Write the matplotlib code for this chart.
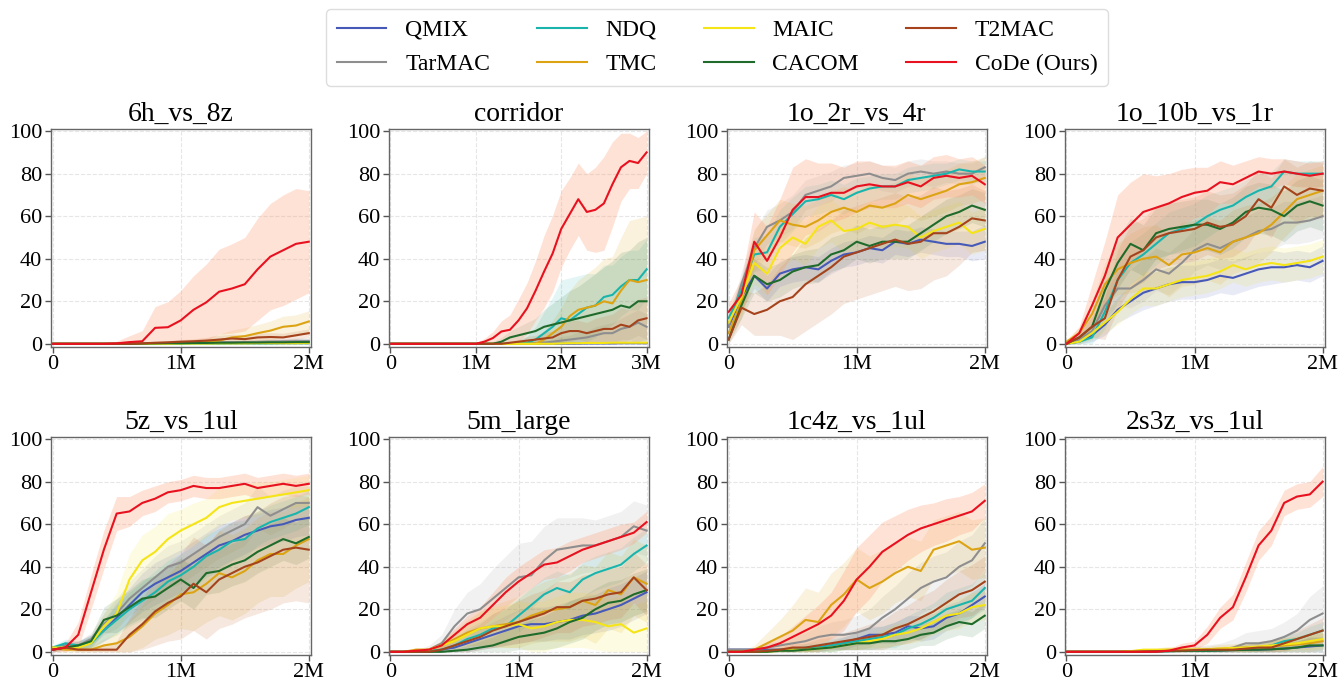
import numpy as np
import matplotlib.pyplot as plt

plt.rcParams['font.family'] = ['Liberation Serif', 'DejaVu Serif']

## Methods and colours

methods = ['QMIX', 'TarMAC', 'NDQ', 'TMC', 'MAIC', 'CACOM', 'T2MAC', 'CoDe (Ours)']
colors = ['#4659b8', '#8e8e8e', '#19b5ad', '#dca313', '#f5e416', '#1f6b2b', '#a4431c', '#e8111f']
band_colors = ['#4659b8', '#8e8e8e', '#19b5ad', '#dca313', '#f5e416', '#1f6b2b', '#c8703c', '#ff9f78']
band_alpha = [0.12, 0.12, 0.12, 0.14, 0.12, 0.12, 0.16, 0.30]

## Training steps (in millions)

steps_2m = np.arange(0, 2.01, 0.1)
steps_3m = np.arange(0, 3.01, 0.1)

## Win rates (%) - 6h_vs_8z

h6_qmix = [0, 0, 0, 0, 0, 0, 0, 0, 0.2, 0.3, 0.3, 0.4, 0.4, 0.5, 0.5, 0.5, 0.6, 0.6, 0.7, 0.8, 0.8]
h6_tarmac = [0, 0, 0, 0, 0, 0, 0, 0.2, 0.3, 0.4, 0.5, 0.5, 0.6, 0.7, 0.8, 0.8, 0.9, 1.0, 1.1, 1.2, 1.3]
h6_ndq = [0, 0, 0, 0, 0, 0, 0, 0, 0, 0, 0, 0.1, 0.1, 0.1, 0.2, 0.2, 0.2, 0.2, 0.3, 0.3, 0.3]
h6_tmc = [0, 0, 0, 0, 0, 0, 0, 0, 0.2, 0.3, 0.4, 0.6, 0.8, 1.5, 3.0, 3.6, 5.0, 6.2, 8.0, 8.6, 10.5]
h6_maic = [0, 0, 0, 0, 0, 0, 0, 0, 0, 0, 0.1, 0.1, 0.1, 0.2, 0.2, 0.2, 0.3, 0.3, 0.3, 0.3, 0.4]
h6_cacom = [0, 0, 0, 0, 0, 0, 0, 0.1, 0.2, 0.3, 0.3, 0.4, 0.4, 0.5, 0.5, 0.6, 0.6, 0.7, 0.7, 0.8, 0.8]
h6_t2mac = [0, 0, 0, 0, 0, 0, 0, 0.2, 0.5, 0.7, 1.0, 1.2, 1.5, 2.0, 2.5, 2.2, 3.0, 3.2, 3.0, 4.0, 5.0]
h6_code = [0, 0, 0, 0, 0, 0.2, 0.8, 1.2, 7.5, 7.8, 11, 16, 19.5, 24.5, 26, 28, 35, 41, 44, 47, 48]

h6_std_small = [0, 0, 0, 0, 0, 0, 0, 0.2, 0.3, 0.4, 0.5, 0.6, 0.7, 0.8, 0.9, 1.0, 1.0, 1.2, 1.3, 1.5, 1.5]
h6_std_tmc = [0, 0, 0, 0, 0, 0, 0, 0.3, 0.5, 0.8, 1, 1.5, 2, 3, 3.5, 4, 4, 4.5, 5, 5, 5]
h6_std_t2mac = [0, 0, 0, 0, 0, 0, 0, 0.3, 0.5, 0.8, 1, 1.2, 1.5, 2, 2, 2, 2, 2, 2, 2, 2]
h6_std_code = [0, 0, 0, 0, 0.5, 1, 3, 5, 10, 12, 14, 16, 18, 20, 21, 22, 24, 25, 26, 26, 24]

## corridor

co_qmix = [0] * 20 + [0.1, 0.1, 0.1, 0.2, 0.2, 0.2, 0.2, 0.3, 0.3, 0.3, 0.3]
co_tarmac = [0] * 16 + [0.2, 0.4, 0.6, 1.0, 1.5, 2, 2.5, 3, 4, 5, 5, 7, 8, 10, 8]
co_ndq = [0] * 16 + [0.5, 2, 5, 8, 12, 11, 14, 17, 18, 22, 23, 27, 30, 30, 35]
co_tmc = [0] * 18 + [2, 5, 8, 13, 16, 17, 18, 20, 19, 25, 30, 29, 30]
co_maic = [0] * 20 + [0.2, 0.3, 0.3, 0.4, 0.4, 0.4, 0.5, 0.5, 0.5, 0.5, 0.5]
co_cacom = [0] * 13 + [1, 3, 4, 5, 6, 8, 9, 10, 11, 12, 13, 14, 15, 16, 18, 17, 20, 20]
co_t2mac = [0] * 14 + [0.5, 1, 1.5, 2, 2.5, 3, 5, 6, 6, 5, 6, 7, 7, 9, 8, 11, 12]
co_code = [0] * 11 + [1, 2.7, 5.8, 6.6, 11, 16.7, 25, 34, 42.5, 54, 61, 68, 62, 63, 66, 75, 83, 86, 85, 90]

co_std_small = [0] * 20 + [0.2, 0.2, 0.2, 0.2, 0.3, 0.3, 0.3, 0.3, 0.3, 0.3, 0.3]
co_std_tarmac = [0] * 16 + [0.3, 0.5, 1, 1, 2, 2, 3, 3, 4, 4, 5, 5, 6, 6, 6]
co_std_ndq = [0] * 14 + [0.5, 1, 3, 6, 10, 14, 18, 20, 18, 16, 15, 15, 14, 14, 14, 14, 14]
co_std_tmc = [0] * 16 + [1, 2, 4, 6, 9, 12, 14, 16, 18, 20, 22, 25, 28, 30, 30]
co_std_cacom = [0] * 12 + [1, 2, 3, 4, 5, 6, 8, 10, 12, 14, 15, 17, 19, 21, 23, 25, 27, 28, 30]
co_std_t2mac = [0] * 14 + [0.5, 1, 2, 2, 3, 3, 4, 5, 5, 5, 6, 6, 7, 8, 8, 10, 10]
co_std_code = [0] * 10 + [0.5, 1.5, 3, 5, 7, 10, 12, 14, 17, 18, 18, 17, 17, 18, 20, 22, 20, 16, 13, 12, 10]

## 1o_2r_vs_4r

o2_qmix = [8, 22, 32, 26, 33, 35, 36, 35, 39, 42, 43, 45, 44, 48, 47, 49, 48, 47, 47, 46, 48]
o2_tarmac = [8, 28, 45, 55, 58, 62, 70, 72, 74, 78, 79, 80, 78, 77, 80, 81, 80, 81, 80, 80, 83]
o2_ndq = [12, 25, 42, 43, 55, 61, 67, 68, 70, 68, 71, 73, 74, 74, 77, 78, 79, 80, 82, 81, 81]
o2_tmc = [5, 20, 44, 51, 58, 56, 55, 58, 62, 64, 62, 65, 64, 66, 70, 68, 70, 72, 75, 76, 78]
o2_maic = [10, 22, 38, 33, 45, 50, 47, 55, 58, 53, 54, 57, 55, 56, 55, 50, 53, 55, 57, 52, 54]
o2_cacom = [2, 18, 32, 28, 30, 34, 36, 37, 42, 44, 48, 46, 48, 48, 48, 52, 56, 60, 62, 65, 63]
o2_t2mac = [2, 17, 14, 16, 20, 22, 28, 32, 36, 41, 43, 45, 47, 49, 47, 48, 52, 52, 55, 59, 58]
o2_code = [15, 23, 48, 39, 50, 63, 69, 69, 71, 71, 74, 75, 74, 74, 76, 74, 78, 79, 78, 79, 75]

o2_std_qmix = [3, 6, 6, 6, 6, 6, 6, 6, 6, 6, 6, 6, 6, 6, 6, 6, 6, 6, 6, 7, 8]
o2_std_tarmac = [3, 6, 8, 8, 8, 8, 7, 7, 7, 6, 6, 6, 6, 6, 6, 6, 6, 5, 5, 5, 5]
o2_std_ndq = [3, 6, 8, 8, 8, 8, 7, 7, 7, 7, 7, 6, 6, 6, 6, 6, 6, 5, 5, 5, 5]
o2_std_tmc = [3, 8, 10, 10, 10, 10, 10, 10, 10, 10, 10, 10, 10, 10, 10, 10, 10, 10, 10, 10, 10]
o2_std_maic = [3, 8, 10, 10, 10, 10, 10, 10, 10, 10, 10, 10, 10, 10, 10, 10, 10, 10, 10, 10, 10]
o2_std_cacom = [2, 6, 8, 8, 8, 8, 8, 8, 8, 8, 8, 8, 8, 8, 8, 8, 8, 8, 8, 8, 8]
o2_std_t2mac = [2, 8, 10, 12, 16, 20, 22, 22, 22, 22, 22, 22, 22, 22, 22, 22, 22, 20, 18, 16, 14]
o2_std_code = [4, 8, 14, 16, 18, 20, 18, 16, 14, 12, 12, 11, 10, 10, 10, 10, 10, 10, 9, 9, 9]

## 1o_10b_vs_1r

o10_qmix = [0, 1, 4, 9, 16, 20, 24, 26, 28, 29, 29, 30, 32, 31, 33, 35, 36, 36, 37, 36, 39]
o10_tarmac = [0, 2, 6, 18, 26, 26, 30, 35, 33, 38, 44, 47, 45, 48, 50, 53, 54, 57, 57, 58, 60]
o10_ndq = [0, 1, 3, 15, 30, 38, 42, 47, 52, 54, 56, 60, 63, 65, 69, 72, 74, 81, 80, 80, 80]
o10_tmc = [1, 5, 14, 28, 35, 38, 40, 41, 37, 42, 43, 45, 43, 48, 50, 52, 56, 62, 68, 70, 72]
o10_maic = [0, 1, 5, 10, 15, 21, 26, 26, 28, 30, 31, 32, 34, 37, 35, 37, 38, 37, 38, 39, 41]
o10_cacom = [0, 3, 8, 25, 38, 47, 44, 52, 54, 55, 56, 56, 54, 57, 62, 64, 63, 60, 65, 67, 65]
o10_t2mac = [0, 3, 8, 12, 30, 41, 44, 50, 52, 53, 54, 57, 55, 56, 60, 68, 64, 74, 70, 73, 72]
o10_code = [0, 5, 18, 32, 50, 56, 62, 64, 66, 69, 71, 72, 76, 75, 78, 81, 80, 81, 80, 79, 80]

o10_std_qmix = [0.5, 1, 3, 5, 6, 7, 8, 8, 8, 8, 8, 8, 8, 8, 8, 8, 8, 7, 7, 7, 7]
o10_std_tarmac = [0.5, 2, 4, 6, 8, 9, 10, 10, 10, 10, 10, 10, 10, 10, 10, 10, 10, 10, 10, 10, 10]
o10_std_ndq = [0.5, 1, 3, 8, 10, 10, 10, 10, 10, 10, 10, 10, 9, 9, 8, 8, 7, 6, 6, 6, 6]
o10_std_tmc = [1, 3, 6, 10, 12, 14, 15, 15, 15, 15, 15, 15, 15, 15, 15, 14, 13, 12, 12, 12, 12]
o10_std_maic = [0.5, 1, 3, 5, 6, 7, 8, 8, 8, 8, 8, 8, 8, 8, 8, 8, 8, 8, 8, 8, 8]
o10_std_cacom = [0.5, 2, 5, 10, 12, 12, 12, 12, 12, 12, 12, 12, 12, 12, 12, 12, 12, 12, 12, 12, 12]
o10_std_t2mac = [0.5, 2, 5, 10, 14, 15, 15, 15, 15, 15, 15, 15, 15, 15, 15, 14, 14, 13, 13, 13, 13]
o10_std_code = [1, 3, 10, 16, 20, 20, 18, 15, 14, 13, 12, 11, 10, 9, 8, 7, 7, 6, 6, 6, 6]

## 5z_vs_1ul

z5_qmix = [1, 3, 3, 5, 10, 16, 22, 28, 32, 35, 38, 42, 46, 50, 52, 55, 57, 59, 60, 62, 63]
z5_tarmac = [1, 3, 3, 6, 13, 18, 25, 30, 35, 40, 42, 46, 50, 54, 57, 60, 68, 64, 67, 70, 70]
z5_ndq = [2, 4, 3, 4, 10, 15, 20, 24, 28, 33, 36, 40, 45, 48, 52, 53, 58, 61, 63, 65, 68]
z5_tmc = [2, 1, 1, 1, 3, 4, 7, 12, 18, 22, 27, 28, 32, 37, 35, 38, 43, 46, 46, 50, 53]
z5_maic = [2, 2, 2, 4, 12, 18, 34, 43, 47, 53, 57, 60, 63, 68, 70, 71, 72, 73, 74, 75, 76]
z5_cacom = [1, 2, 3, 5, 15, 17, 21, 25, 26, 30, 34, 30, 37, 38, 41, 43, 47, 50, 53, 51, 54]
z5_t2mac = [1, 2, 1, 1, 1, 1, 8, 13, 19, 23, 26, 32, 28, 34, 37, 40, 42, 45, 48, 49, 48]
z5_code = [1, 2, 8, 28, 48, 65, 66, 70, 72, 75, 76, 78, 77, 77, 78, 79, 77, 78, 79, 78, 79]

z5_std_qmix = [1, 2, 2, 3, 5, 7, 8, 9, 10, 10, 10, 10, 10, 10, 9, 9, 8, 8, 8, 8, 8]
z5_std_tarmac = [1, 2, 2, 3, 5, 7, 8, 9, 10, 10, 10, 10, 10, 10, 10, 10, 10, 9, 9, 8, 8]
z5_std_ndq = [1, 2, 2, 3, 5, 7, 8, 9, 10, 10, 10, 10, 10, 10, 9, 9, 8, 8, 8, 8, 8]
z5_std_tmc = [1, 1, 1, 2, 3, 5, 8, 10, 12, 14, 16, 18, 18, 20, 20, 20, 20, 20, 20, 20, 20]
z5_std_maic = [1, 1, 1, 3, 6, 10, 12, 12, 12, 12, 10, 10, 9, 9, 8, 8, 8, 7, 7, 7, 7]
z5_std_cacom = [1, 1, 2, 3, 6, 8, 8, 9, 10, 10, 10, 10, 10, 10, 10, 10, 10, 10, 10, 10, 10]
z5_std_t2mac = [1, 1, 1, 1, 2, 4, 8, 12, 16, 18, 20, 22, 22, 23, 24, 24, 24, 25, 25, 25, 25]
z5_std_code = [1, 2, 6, 8, 9, 8, 7, 6, 6, 5, 5, 5, 5, 5, 5, 5, 5, 5, 5, 5, 5]

## 5m_large

m5_qmix = [0, 0, 0, 0, 1, 2, 4, 6, 8, 10, 12, 13, 13, 14, 15, 17, 18, 20, 22, 25, 28]
m5_tarmac = [0, 0, 0, 1, 4, 12, 18, 20, 25, 30, 35, 36, 43, 48, 49, 50, 50, 52, 54, 59, 57]
m5_ndq = [0, 0, 0, 0.5, 1, 3, 6, 8, 11, 12, 17, 22, 27, 30, 28, 34, 37, 39, 41, 46, 50]
m5_tmc = [0, 0, 1, 1, 3, 6, 9, 11, 12, 13, 14, 17, 19, 20, 21, 24, 22, 29, 27, 35, 32]
m5_maic = [0, 0, 0, 1, 3, 5, 8, 11, 12, 12, 13, 11, 12, 14, 15, 15, 14, 12, 13, 9, 11]
m5_cacom = [0, 0, 0, 0, 0, 0.5, 1, 2, 3, 5, 7, 8, 9, 11, 14, 16, 20, 23, 24, 27, 29]
m5_t2mac = [0, 0, 0, 0, 1, 3, 5, 7, 10, 12, 14, 16, 18, 21, 21, 24, 25, 27, 28, 35, 29]
m5_code = [0, 0, 0.5, 1, 3, 8, 13, 16, 22, 28, 33, 37, 41, 42, 45, 48, 50, 52, 54, 56, 61]

m5_std_qmix = [0, 0, 0.5, 1, 2, 3, 4, 5, 6, 7, 8, 8, 8, 8, 9, 9, 9, 10, 10, 10, 10]
m5_std_tarmac = [0, 0, 1, 2, 4, 8, 10, 12, 14, 15, 16, 16, 16, 15, 14, 13, 12, 12, 12, 12, 12]
m5_std_ndq = [0, 0, 0.5, 1, 2, 3, 5, 6, 7, 8, 8, 8, 8, 8, 8, 8, 8, 8, 8, 8, 8]
m5_std_tmc = [0, 0, 1, 1, 2, 4, 6, 8, 10, 11, 12, 13, 14, 15, 16, 17, 18, 18, 18, 18, 18]
m5_std_maic = [0, 0, 0.5, 1, 2, 4, 6, 8, 9, 10, 11, 12, 12, 12, 13, 13, 13, 13, 13, 13, 13]
m5_std_cacom = [0, 0, 0, 0, 0.5, 1, 2, 3, 4, 5, 6, 7, 8, 9, 10, 10, 10, 10, 10, 10, 10]
m5_std_t2mac = [0, 0, 0.5, 1, 2, 3, 5, 6, 8, 9, 10, 11, 11, 12, 12, 12, 12, 12, 12, 12, 12]
m5_std_code = [0, 0, 0.5, 1, 2, 3, 4, 5, 6, 7, 7, 7, 7, 7, 7, 6, 6, 6, 6, 5, 5]

## 1c4z_vs_1ul

c4_qmix = [1, 1, 1, 1, 1, 1, 1.5, 2, 3, 4, 6, 8, 8, 9, 12, 11, 12, 16, 18, 22, 26]
c4_tarmac = [1, 1, 1, 2, 3, 4, 5, 7, 8, 8, 9, 11, 16, 20, 25, 30, 33, 35, 40, 43, 51]
c4_ndq = [0, 0, 0, 0.5, 1, 1, 2, 2, 3, 4, 5, 6, 7, 8, 11, 13, 16, 20, 22, 24, 30]
c4_tmc = [0, 0, 1, 4, 7, 10, 15, 14, 22, 27, 34, 30, 33, 37, 40, 38, 48, 50, 52, 48, 49]
c4_maic = [0, 0, 0, 0, 0.5, 1, 1, 1.5, 2, 3, 4, 5, 6, 8, 9, 11, 14, 17, 18, 21, 22]
c4_cacom = [0, 0, 0, 0, 0.5, 0.5, 1, 1.5, 2, 3, 4, 4, 5, 5, 6, 8, 9, 12, 14, 13, 17]
c4_t2mac = [0, 0, 0, 0.5, 1, 2, 2, 3, 4, 5, 6, 7, 8, 11, 13, 16, 19, 23, 27, 29, 33]
c4_code = [0, 0, 1, 2, 4, 7, 10, 13, 17, 24, 34, 40, 47, 51, 55, 58, 60, 62, 64, 66, 71]

c4_std_qmix = [1, 1, 1, 1, 1, 1, 1, 2, 2, 3, 3, 4, 4, 5, 5, 6, 6, 6, 6, 6, 6]
c4_std_tarmac = [1, 1, 1, 2, 2, 3, 4, 5, 6, 7, 8, 9, 10, 11, 12, 12, 12, 12, 12, 12, 12]
c4_std_ndq = [0.5, 0.5, 0.5, 1, 1, 1, 2, 2, 3, 3, 4, 5, 5, 6, 6, 7, 7, 8, 8, 8, 8]
c4_std_tmc = [0.5, 0.5, 2, 5, 8, 12, 15, 14, 15, 15, 15, 15, 15, 14, 14, 14, 14, 14, 14, 14, 14]
c4_std_maic = [0.5, 0.5, 0.5, 0.5, 1, 1, 1, 2, 2, 2, 3, 3, 4, 5, 5, 6, 6, 7, 7, 7, 7]
c4_std_cacom = [0.5, 0.5, 0.5, 0.5, 1, 1, 1, 1, 2, 2, 3, 3, 4, 4, 5, 5, 6, 6, 6, 6, 6]
c4_std_t2mac = [0.5, 0.5, 0.5, 1, 1, 2, 2, 3, 3, 4, 5, 6, 7, 8, 9, 10, 10, 11, 11, 12, 12]
c4_std_code = [0.5, 0.5, 1, 2, 3, 5, 7, 9, 11, 14, 15, 15, 14, 13, 12, 11, 10, 10, 9, 9, 8]

## 2s3z_vs_1ul

s2_qmix = [0, 0, 0, 0, 0, 0, 0.2, 0.3, 0.4, 0.5, 0.5, 0.6, 0.7, 0.8, 1, 1, 1.2, 1.5, 2, 2.5, 3]
s2_tarmac = [0, 0, 0, 0, 0, 0, 0, 0.3, 0.5, 0.5, 0.6, 0.8, 1, 2, 4, 4, 5, 7, 10, 15, 18]
s2_ndq = [0, 0, 0, 0, 0, 0, 0, 0.2, 0.3, 0.4, 0.5, 0.6, 0.8, 1, 1.5, 2, 3, 5, 6, 8, 10]
s2_tmc = [0, 0, 0, 0, 0, 0.3, 0.5, 0.8, 1, 1, 1, 1.2, 1.5, 1.8, 2, 2, 2.5, 3, 3.5, 4, 5]
s2_maic = [0, 0, 0, 0, 0, 0.3, 1, 1, 1, 1, 1, 1.2, 1.5, 1.8, 2, 2.5, 3, 3.5, 4, 5, 6]
s2_cacom = [0, 0, 0, 0, 0, 0, 0, 0.2, 0.3, 0.4, 0.5, 0.5, 0.6, 0.8, 0.9, 1, 1.2, 1.5, 2, 3, 3]
s2_t2mac = [0, 0, 0, 0, 0, 0, 0.2, 0.3, 0.5, 0.6, 0.8, 1, 1, 1, 1.5, 2, 2, 4, 6, 8, 10]
s2_code = [0, 0, 0, 0, 0, 0, 0, 0, 0.5, 2, 3, 8, 16, 21, 35, 50, 57, 70, 73, 74, 80]

s2_std_small = [0, 0, 0, 0, 0, 0, 0.2, 0.3, 0.5, 0.5, 0.8, 1, 1, 1.5, 2, 2, 2.5, 3, 3, 4, 4]
s2_std_tarmac = [0, 0, 0, 0, 0, 0, 0.2, 0.5, 1, 1.5, 2, 2.5, 3, 4, 5, 6, 6, 7, 8, 11, 13]
s2_std_tmc = [0, 0, 0, 0, 0, 0.3, 0.8, 1, 1.5, 1.5, 1.5, 1.5, 2, 2, 2.5, 3, 3, 3.5, 4, 4, 4]
s2_std_t2mac = [0, 0, 0, 0, 0, 0, 0.2, 0.3, 0.5, 0.6, 0.8, 1, 1, 1.5, 2, 2.5, 3, 3.5, 4, 5, 6]
s2_std_code = [0, 0, 0, 0, 0, 0, 0, 0.5, 1, 2, 2, 4, 5, 6, 7, 7, 7, 6, 6, 6, 7]

## Group per map

titles = ['6h_vs_8z', 'corridor', '1o_2r_vs_4r', '1o_10b_vs_1r',
          '5z_vs_1ul', '5m_large', '1c4z_vs_1ul', '2s3z_vs_1ul']
steps = [steps_2m, steps_3m, steps_2m, steps_2m, steps_2m, steps_2m, steps_2m, steps_2m]
means = [
    [h6_qmix, h6_tarmac, h6_ndq, h6_tmc, h6_maic, h6_cacom, h6_t2mac, h6_code],
    [co_qmix, co_tarmac, co_ndq, co_tmc, co_maic, co_cacom, co_t2mac, co_code],
    [o2_qmix, o2_tarmac, o2_ndq, o2_tmc, o2_maic, o2_cacom, o2_t2mac, o2_code],
    [o10_qmix, o10_tarmac, o10_ndq, o10_tmc, o10_maic, o10_cacom, o10_t2mac, o10_code],
    [z5_qmix, z5_tarmac, z5_ndq, z5_tmc, z5_maic, z5_cacom, z5_t2mac, z5_code],
    [m5_qmix, m5_tarmac, m5_ndq, m5_tmc, m5_maic, m5_cacom, m5_t2mac, m5_code],
    [c4_qmix, c4_tarmac, c4_ndq, c4_tmc, c4_maic, c4_cacom, c4_t2mac, c4_code],
    [s2_qmix, s2_tarmac, s2_ndq, s2_tmc, s2_maic, s2_cacom, s2_t2mac, s2_code],
]
stds = [
    [h6_std_small, h6_std_small, h6_std_small, h6_std_tmc, h6_std_small, h6_std_small, h6_std_t2mac, h6_std_code],
    [co_std_small, co_std_tarmac, co_std_ndq, co_std_tmc, co_std_small, co_std_cacom, co_std_t2mac, co_std_code],
    [o2_std_qmix, o2_std_tarmac, o2_std_ndq, o2_std_tmc, o2_std_maic, o2_std_cacom, o2_std_t2mac, o2_std_code],
    [o10_std_qmix, o10_std_tarmac, o10_std_ndq, o10_std_tmc, o10_std_maic, o10_std_cacom, o10_std_t2mac, o10_std_code],
    [z5_std_qmix, z5_std_tarmac, z5_std_ndq, z5_std_tmc, z5_std_maic, z5_std_cacom, z5_std_t2mac, z5_std_code],
    [m5_std_qmix, m5_std_tarmac, m5_std_ndq, m5_std_tmc, m5_std_maic, m5_std_cacom, m5_std_t2mac, m5_std_code],
    [c4_std_qmix, c4_std_tarmac, c4_std_ndq, c4_std_tmc, c4_std_maic, c4_std_cacom, c4_std_t2mac, c4_std_code],
    [s2_std_small, s2_std_tarmac, s2_std_small, s2_std_tmc, s2_std_small, s2_std_small, s2_std_t2mac, s2_std_code],
]

## Plotting

W, H = 1342, 682
fig = plt.figure(figsize=(W / 100, H / 100), dpi=100)

lefts = [50.7, 388.5, 726.7, 1064.5]
bottoms = [347, 655]
ax_w, ax_h = 260, 218

handles = []
for k in range(8):
    row, col = divmod(k, 4)
    ax = fig.add_axes([lefts[col] / W, 1 - bottoms[row] / H, ax_w / W, ax_h / H])
    x = steps[k]
    for i in range(8):
        m = np.array(means[k][i], dtype=float)
        s = np.array(stds[k][i], dtype=float)
        ax.fill_between(x, np.clip(m - s, 0, 100), np.clip(m + s, 0, 100),
                        color=band_colors[i], alpha=band_alpha[i], linewidth=0)
    for i in range(8):
        line, = ax.plot(x, means[k][i], color=colors[i], linewidth=1.5, label=methods[i])
        if k == 0:
            handles.append(line)

    xmax = x[-1]
    ax.set_xlim(-0.015 * xmax / 2, xmax + 0.015 * xmax / 2)
    ax.set_ylim(-1.5, 101)
    xt = np.arange(0, xmax + 0.01, 1.0)
    ax.set_xticks(xt)
    ax.set_xticklabels(['0'] + ['%dM' % v for v in xt[1:]])
    ax.set_yticks([0, 20, 40, 60, 80, 100])
    ax.tick_params(labelsize=16, length=4, width=1, color='#555555', pad=2)
    ax.grid(True, linestyle='--', color='#e6e6e6', linewidth=0.8)
    ax.set_axisbelow(True)
    for sp in ax.spines.values():
        sp.set_color('#666666')
        sp.set_linewidth(1)
    ax.set_title(titles[k], fontsize=20, pad=6)

fig.legend(handles=handles, labels=methods, loc='upper center', ncol=4,
           bbox_to_anchor=(717 / W, 1 + 3 / H), fontsize=17, frameon=True,
           edgecolor='#dddddd', framealpha=1, handlelength=2.1, handletextpad=0.8,
           columnspacing=2.0, labelspacing=0.55, borderpad=0.45)

plt.savefig('out.png', dpi=100)
